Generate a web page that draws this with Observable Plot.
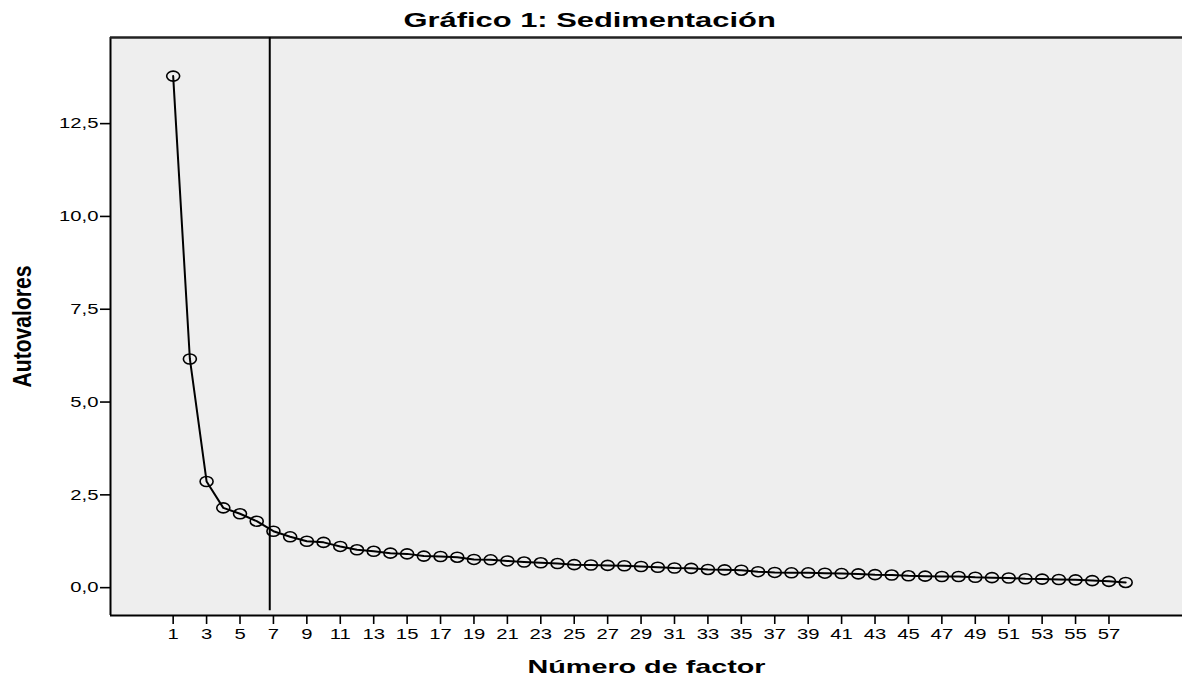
<!DOCTYPE html>
<html><head><meta charset="utf-8">
<script src="https://cdn.jsdelivr.net/npm/d3@7"></script>
<script src="https://cdn.jsdelivr.net/npm/@observablehq/plot@0.6"></script>
<style>
body{margin:0;background:#fff;font-family:"Liberation Sans",Arial,sans-serif;}
#title{height:30px;line-height:30px;text-align:center;width:1182px;font-weight:bold;font-size:21px;color:#000;overflow:visible;}
#title span{display:inline-block;transform:translate(-1px,5px) scaleX(1.47);}
</style></head>
<body>
<div id="title"><span>Gráfico 1: Sedimentación</span></div>
<div id="chart"></div>
<script>
const factors = [1,2,3,4,5,6,7,8,9,10,11,12,13,14,15,16,17,18,19,20,21,22,23,24,25,26,27,28,29,30,31,32,33,34,35,36,37,38,39,40,41,42,43,44,45,46,47,48,49,50,51,52,53,54,55,56,57,58];
const eigenvalues = [13.78,6.16,2.86,2.15,1.99,1.79,1.52,1.37,1.25,1.22,1.11,1.02,0.98,0.93,0.91,0.85,0.84,0.82,0.76,0.75,0.72,0.69,0.67,0.65,0.62,0.61,0.60,0.59,0.57,0.55,0.53,0.52,0.49,0.48,0.47,0.43,0.41,0.40,0.40,0.39,0.38,0.37,0.35,0.34,0.32,0.31,0.30,0.30,0.28,0.27,0.26,0.24,0.23,0.22,0.21,0.19,0.17,0.14];
const xTicks = [1,3,5,7,9,11,13,15,17,19,21,23,25,27,29,31,33,35,37,39,41,43,45,47,49,51,53,55,57];
const yTicks = [0,2.5,5,7.5,10,12.5];
const cutoff = [6.78];
const yLabel = "Autovalores";
const xLabel = "Número de factor";

const data = factors.map((f,i)=>({factor:f, value:eigenvalues[i]}));
const xDomain = [-2.75, 61.4];
const yDomain = [-0.75, 14.82];

const ellipse = {
  draw(ctx, size){
    const r = Math.sqrt(size/Math.PI);
    const rx = r*1.3, ry = r, k = 0.5523;
    ctx.moveTo(rx,0);
    ctx.bezierCurveTo(rx,k*ry,k*rx,ry,0,ry);
    ctx.bezierCurveTo(-k*rx,ry,-rx,k*ry,-rx,0);
    ctx.bezierCurveTo(-rx,-k*ry,-k*rx,-ry,0,-ry);
    ctx.bezierCurveTo(k*rx,-ry,rx,-k*ry,rx,0);
    ctx.closePath();
  }
};

const chart = Plot.plot({
  width:1182, height:647,
  marginLeft:110, marginRight:0, marginTop:7, marginBottom:62,
  x:{domain:xDomain},
  y:{domain:yDomain},
  style:{fontFamily:"'Liberation Sans', Arial, sans-serif", fontSize:"15px", color:"#000", background:"#fff"},
  marks:[
    Plot.frame({fill:"#eeeeee", stroke:null}),
    Plot.axisX({ticks:xTicks, tickFormat:d=>String(d), tickSize:9, tickPadding:4, label:null, strokeWidth:1.6}),
    Plot.axisY({ticks:yTicks, tickFormat:d=>d.toFixed(1).replace(".",","), tickSize:10, tickPadding:2, label:null, strokeWidth:1.6}),
    Plot.ruleX([xDomain[0]], {stroke:"#000", strokeWidth:2}),
    Plot.ruleY([yDomain[0]], {stroke:"#000", strokeWidth:2}),
    Plot.ruleY([yDomain[1]], {stroke:"#222", strokeWidth:2.5}),
    Plot.ruleX(cutoff, {y1:-0.62, y2:yDomain[1], stroke:"#000", strokeWidth:2}),
    Plot.line(data, {x:"factor", y:"value", stroke:"#000", strokeWidth:2}),
    Plot.dot(data, {x:"factor", y:"value", r:5, symbol:ellipse, stroke:"#000", strokeWidth:1.6, fill:"none"}),
    Plot.text([yLabel], {text:d=>d, frameAnchor:"left", textAnchor:"middle", rotate:-90, dx:-88, fontSize:25, fontWeight:"bold"}),
    Plot.text([xLabel], {text:d=>d, frameAnchor:"bottom", dy:57, fontSize:18.5, fontWeight:"bold"})
  ]
});
document.getElementById("chart").appendChild(chart);

chart.querySelectorAll("text").forEach(t=>{
  const s = t.textContent;
  let L;
  if (s === yLabel) L = 122;
  else if (s === xLabel) L = 238;
  else L = t.getComputedTextLength()*1.35;
  t.setAttribute("textLength", L);
  t.setAttribute("lengthAdjust", "spacingAndGlyphs");
});
</script>
</body></html>
